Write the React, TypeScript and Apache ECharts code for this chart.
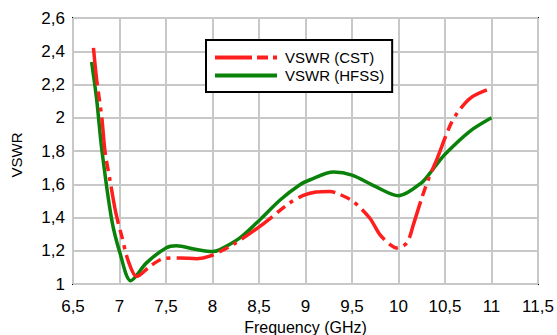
import React, { useEffect, useRef } from "react";
import * as echarts from "echarts";

const cstX = [6.72, 6.755, 6.81, 6.844, 6.9, 6.95, 6.985, 7.02, 7.095, 7.185, 7.33, 7.47, 7.65, 7.83, 7.97, 8.22, 8.51, 8.83, 8.97, 9.11, 9.26, 9.335, 9.51, 9.69, 9.8, 9.91, 9.98, 10.09, 10.16, 10.25, 10.34, 10.41, 10.55, 10.63, 10.77, 10.95];
const cstY = [2.42, 2.227, 2.0, 1.797, 1.617, 1.457, 1.37, 1.297, 1.137, 1.045, 1.107, 1.152, 1.157, 1.152, 1.167, 1.237, 1.347, 1.487, 1.531, 1.553, 1.557, 1.547, 1.497, 1.397, 1.297, 1.237, 1.217, 1.247, 1.357, 1.517, 1.657, 1.747, 1.947, 2.027, 2.117, 2.167];

const hfssX = [6.7, 6.755, 6.81, 6.916, 7.005, 7.12, 7.29, 7.5, 7.61, 7.83, 8.0, 8.08, 8.295, 8.51, 8.73, 8.94, 9.05, 9.3, 9.5, 9.75, 10.0, 10.25, 10.37, 10.5, 10.77, 11.0];
const hfssY = [2.335, 2.107, 1.807, 1.387, 1.187, 1.02, 1.127, 1.217, 1.23, 1.207, 1.195, 1.207, 1.277, 1.387, 1.507, 1.597, 1.627, 1.673, 1.655, 1.587, 1.531, 1.61, 1.69, 1.78, 1.92, 2.0];

const seriesNames = ["VSWR (CST)", "VSWR (HFSS)"];
const xTitle = "Frequency (GHz)";
const yTitle = "VSWR";

const comma = (v: number) => String(Math.round(v * 10) / 10).replace(".", ",");

export default function App() {
  const ref = useRef<HTMLDivElement>(null);
  useEffect(() => {
    if (!ref.current) return;
    const chart = echarts.init(ref.current, null, { renderer: "svg" });
    const font = "'Liberation Sans', Arial, sans-serif";
    chart.setOption({
      animation: false,
      textStyle: { fontFamily: font },
      grid: {
        left: 73,
        right: 19,
        top: 18,
        bottom: 51,
        outerBoundsMode: "none",
        containLabel: false,
        show: true,
        borderColor: "#000",
        borderWidth: 2,
        backgroundColor: "transparent",
      },
      legend: {
        orient: "vertical",
        left: 206,
        top: 40,
        borderColor: "#000",
        borderWidth: 2,
        padding: [10, 8, 9, 9],
        itemWidth: 62,
        itemHeight: 14,
        itemGap: 3,
        backgroundColor: "#fff",
        textStyle: { fontSize: 15, color: "#000", fontFamily: font, padding: [0, 0, 0, 3] },
        data: [
          { name: seriesNames[0], icon: "path://M0,0h37v4h-37z M42,0h11v4h-11z M58,0h4v4h-4z" },
          { name: seriesNames[1], icon: "path://M0,0h62v4h-62z" },
        ],
      },
      xAxis: {
        type: "value",
        min: 6.5,
        max: 11.5,
        interval: 0.5,
        name: xTitle,
        nameLocation: "middle",
        nameGap: 35,
        nameTextStyle: { fontSize: 16, color: "#000", fontFamily: font },
        axisLine: { show: false },
        axisTick: { show: false },
        axisLabel: { fontSize: 17, color: "#000", margin: 14, formatter: comma },
        splitLine: { show: true, lineStyle: { color: "#c8c8c8", width: 2 } },
      },
      yAxis: {
        type: "value",
        min: 1,
        max: 2.6,
        interval: 0.2,
        name: yTitle,
        nameLocation: "middle",
        nameGap: 49,
        nameTextStyle: { fontSize: 15, color: "#000", fontFamily: font, padding: [0, 8, 0, 0] },
        axisLine: { show: false },
        axisTick: { show: false },
        axisLabel: { fontSize: 17, color: "#000", margin: 8, formatter: comma },
        splitLine: { show: true, lineStyle: { color: "#c8c8c8", width: 2 } },
      },
      series: [
        {
          name: seriesNames[0],
          type: "line",
          smooth: 0.3,
          symbol: "none",
          z: 3,
          lineStyle: { color: "#ff1e1e", width: 3.5, type: [38, 6, 10, 6, 4, 6] },
          itemStyle: { color: "#ff1e1e" },
          data: cstX.map((x, i) => [x, cstY[i]]),
        },
        {
          name: seriesNames[1],
          type: "line",
          smooth: 0.3,
          symbol: "none",
          z: 2,
          lineStyle: { color: "#0a820a", width: 3.5 },
          itemStyle: { color: "#0a820a" },
          data: hfssX.map((x, i) => [x, hfssY[i]]),
        },
      ],
    });
    return () => chart.dispose();
  }, []);
  return (
    <div
      ref={ref}
      style={{ position: "fixed", left: 0, top: 0, width: 557, height: 335, background: "#fff" }}
    />
  );
}
